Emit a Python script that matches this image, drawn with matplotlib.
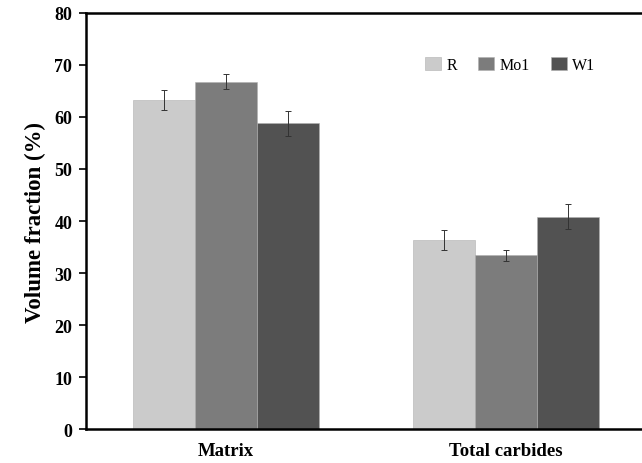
import numpy as np
import matplotlib
matplotlib.use("Agg")
import matplotlib.pyplot as plt

plt.rcParams["font.family"] = ["Liberation Serif", "DejaVu Serif"]

# data
categories = ["Matrix", "Total carbides"]
series = ["R", "Mo1", "W1"]
values = {
    "R": [63.2, 36.4],
    "Mo1": [66.8, 33.4],
    "W1": [58.8, 40.8],
}
errors = {
    "R": [1.9, 1.9],
    "Mo1": [1.5, 1.0],
    "W1": [2.4, 2.4],
}
colors = {"R": "#cbcbcb", "Mo1": "#7c7c7c", "W1": "#525252"}

fig = plt.figure(figsize=(6.42, 4.64), dpi=100)
ax = fig.add_axes([0.134, 0.073, 0.872, 0.897])

x = np.arange(len(categories))
width = 0.2214
for i, s in enumerate(series):
    ax.bar(x + (i - 1) * width, values[s], width, color=colors[s],
           edgecolor="#b0b0b0", linewidth=0.4, label=s,
           yerr=errors[s], capsize=2.5,
           error_kw=dict(ecolor="#333333", elinewidth=0.7, capthick=0.7))

ax.set_xlim(-0.5, 1.5)
ax.set_ylim(0, 80)
ax.set_yticks(range(0, 81, 10))
ax.set_xticks(x)
ax.set_xticklabels(categories, fontweight="bold", fontsize=13.5)
for lab in ax.get_yticklabels():
    lab.set_fontweight("bold")
    lab.set_fontsize(13)
ax.tick_params(axis="y", direction="out", length=5, width=1.2, pad=5)
ax.tick_params(axis="x", length=0, pad=9)
ax.set_ylabel("Volume fraction (%)", fontweight="bold", fontsize=16.5, labelpad=6)

for side in ["left", "bottom", "top"]:
    ax.spines[side].set_linewidth(1.8)
ax.spines["right"].set_visible(False)

fig.legend(loc="center", bbox_to_anchor=(0.795, 0.858), ncol=3, frameon=False,
           fontsize=11.5, handlelength=1.0, handleheight=0.9,
           handletextpad=0.35, columnspacing=1.3)

fig.savefig("out.png", dpi=100)
